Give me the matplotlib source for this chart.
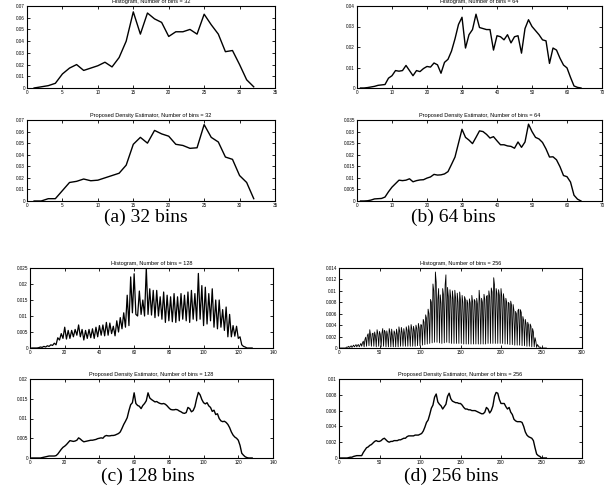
import numpy as np
import matplotlib
matplotlib.use('Agg')
import matplotlib.pyplot as plt
from matplotlib.ticker import FormatStrFormatter

# 32 bins
hist32 = [0, 0.001, 0.002, 0.004, 0.012, 0.017, 0.020, 0.015, 0.017, 0.019,
          0.022, 0.018, 0.026, 0.040, 0.065, 0.046, 0.064, 0.059, 0.056, 0.044,
          0.048, 0.048, 0.050, 0.046, 0.063, 0.054, 0.046, 0.031, 0.032, 0.020,
          0.007, 0.001]
dens32 = [0, 0, 0.002, 0.002, 0.009, 0.016, 0.017, 0.019, 0.0175, 0.018,
          0.020, 0.022, 0.024, 0.031, 0.049, 0.055, 0.050, 0.061, 0.058, 0.056,
          0.049, 0.048, 0.0455, 0.046, 0.066, 0.055, 0.051, 0.038, 0.036, 0.022,
          0.016, 0.002]

# 64 bins
hist64 = [0, 0, 0.0002, 0.0005, 0.0008, 0.0013, 0.0015, 0.0017, 0.0048, 0.006,
          0.0085, 0.0082, 0.0085, 0.011, 0.0085, 0.006, 0.0085, 0.008, 0.0095, 0.0105,
          0.0102, 0.0122, 0.0113, 0.0072, 0.0125, 0.014, 0.018, 0.024, 0.031, 0.0345,
          0.0195, 0.026, 0.0285, 0.036, 0.0295, 0.029, 0.0285, 0.0285, 0.0185, 0.0255,
          0.025, 0.0235, 0.026, 0.022, 0.025, 0.0255, 0.017, 0.029, 0.0333, 0.030,
          0.028, 0.026, 0.0235, 0.023, 0.012, 0.0195, 0.0185, 0.0145, 0.0112, 0.0098,
          0.0052, 0.001, 0.0003, 0]
dens64 = [0, 0, 0.0001, 0.0004, 0.0009, 0.001, 0.0011, 0.0017, 0.004, 0.006,
          0.0075, 0.009, 0.0088, 0.009, 0.0096, 0.0083, 0.0088, 0.0091, 0.0092, 0.0099,
          0.0104, 0.0115, 0.0112, 0.0113, 0.0117, 0.0127, 0.0158, 0.019, 0.025, 0.031,
          0.0275, 0.0263, 0.0248, 0.0275, 0.0303, 0.030, 0.0288, 0.0272, 0.0278, 0.026,
          0.0243, 0.0243, 0.0238, 0.0236, 0.0228, 0.0255, 0.0232, 0.0255, 0.0332, 0.030,
          0.0275, 0.0268, 0.0253, 0.0225, 0.019, 0.0191, 0.0178, 0.0148, 0.011, 0.0105,
          0.0082, 0.0025, 0.0008, 0]

# 128 bins
hist128 = [0, 0, 0, 0, 0.0001, 0.0003, 0.0002, 0.0005, 0.0003, 0.0007,
           0.0005, 0.001, 0.0008, 0.0015, 0.001, 0.0032, 0.0025, 0.0045, 0.003, 0.0065,
           0.0028, 0.0055, 0.003, 0.0055, 0.0035, 0.0058, 0.004, 0.0072, 0.0035, 0.0058,
           0.0025, 0.0055, 0.003, 0.0058, 0.0032, 0.006, 0.003, 0.0065, 0.0035, 0.007,
           0.004, 0.0072, 0.0038, 0.008, 0.004, 0.0078, 0.0045, 0.0068, 0.0038, 0.0085,
           0.005, 0.0095, 0.006, 0.011, 0.0065, 0.0165, 0.007, 0.0222, 0.011, 0.0232,
           0.0105, 0.0100, 0.0178, 0.0105, 0.0150, 0.0100, 0.0250, 0.0105, 0.0185, 0.0103,
           0.018, 0.0095, 0.018, 0.010, 0.016, 0.009, 0.0175, 0.008, 0.0165, 0.0085,
           0.016, 0.0082, 0.017, 0.008, 0.016, 0.0085, 0.017, 0.009, 0.0165, 0.0085,
           0.0175, 0.008, 0.018, 0.009, 0.017, 0.0085, 0.0233, 0.009, 0.0195, 0.007,
           0.019, 0.0075, 0.017, 0.0085, 0.0185, 0.0065, 0.015, 0.006, 0.015, 0.0065,
           0.012, 0.0055, 0.0128, 0.0035, 0.0105, 0.0035, 0.007, 0.0037, 0.0068, 0.003,
           0.0035, 0.001, 0.0005, 0.0003, 0, 0, 0, 0]
dens128 = [0, 0, 0, 0, 0, 0, 0.0001, 0.0002, 0.0003, 0.0004,
           0.0005, 0.0005, 0.0005, 0.0005, 0.0006, 0.001, 0.0016, 0.0022, 0.0027, 0.003,
           0.0034, 0.0039, 0.0044, 0.0043, 0.0042, 0.0043, 0.0045, 0.0051, 0.0048, 0.0044,
           0.0041, 0.0042, 0.0043, 0.0044, 0.0045, 0.0045, 0.0046, 0.0047, 0.0049, 0.005,
           0.0051, 0.005, 0.0055, 0.0057, 0.0056, 0.0056, 0.0057, 0.0057, 0.0058, 0.006,
           0.0062, 0.0066, 0.0075, 0.0085, 0.0093, 0.0102, 0.012, 0.0135, 0.014, 0.0165,
           0.0138, 0.0133, 0.0131, 0.0125, 0.0133, 0.0138, 0.0145, 0.0165, 0.0152, 0.0148,
           0.0145, 0.0142, 0.0143, 0.014, 0.0138, 0.0137, 0.0138, 0.0136, 0.0132, 0.0127,
           0.0123, 0.0122, 0.0122, 0.0123, 0.0122, 0.0119, 0.0117, 0.0114, 0.0113, 0.0115,
           0.0128, 0.0125, 0.0117, 0.012, 0.013, 0.015, 0.0166, 0.016, 0.0148, 0.014,
           0.0137, 0.014, 0.0132, 0.0128, 0.0118, 0.0121, 0.011, 0.0112, 0.01, 0.0094,
           0.0092, 0.0093, 0.009, 0.0085, 0.0077, 0.0066, 0.0058, 0.0053, 0.005, 0.0045,
           0.0032, 0.0012, 0.0007, 0.0003, 0.0001, 0, 0, 0]

# 256 bins
hist256 = [0, 0, 0, 0, 0, 0, 0, 0, 0.0001, 0.0002,
           0.0001, 0.0003, 0.0001, 0.0002, 0.0004, 0.0001, 0.0003, 0.0005, 0.0002, 0.0004,
           0.0006, 0.0002, 0.0005, 0.0006, 0.0002, 0.0005, 0.0008, 0.0003, 0.0009, 0.0012,
           0.0002, 0.0015, 0.0019, 0.0003, 0.0022, 0.0025, 0.0004, 0.0032, 0.0022, 0.0003,
           0.0025, 0.0026, 0.0003, 0.0028, 0.0021, 0.0002, 0.0032, 0.0025, 0.0003, 0.0029,
           0.0024, 0.0002, 0.0026, 0.0034, 0.0003, 0.0031, 0.0028, 0.0002, 0.0030, 0.0022,
           0.0002, 0.0034, 0.0027, 0.0002, 0.0033, 0.0021, 0.0002, 0.0030, 0.0026, 0.0002,
           0.0033, 0.0024, 0.0002, 0.0037, 0.0028, 0.0003, 0.0036, 0.0027, 0.0003, 0.0034,
           0.0025, 0.0003, 0.0037, 0.0031, 0.0003, 0.0039, 0.0027, 0.0003, 0.0041, 0.0033,
           0.0003, 0.0038, 0.0030, 0.0003, 0.0040, 0.0034, 0.0004, 0.0043, 0.0035, 0.0004,
           0.0041, 0.0040, 0.0005, 0.0050, 0.0045, 0.0006, 0.0058, 0.0052, 0.0007, 0.0068,
           0.0060, 0.0008, 0.0085, 0.0080, 0.0009, 0.0112, 0.0100, 0.0010, 0.0133, 0.0115,
           0.0010, 0.0085, 0.0104, 0.0009, 0.0093, 0.0078, 0.0008, 0.0104, 0.0093, 0.0009,
           0.0110, 0.0128, 0.0010, 0.0106, 0.0090, 0.0009, 0.0102, 0.0088, 0.0008, 0.0100,
           0.0085, 0.0008, 0.0101, 0.0087, 0.0008, 0.0096, 0.0080, 0.0008, 0.0098, 0.0083,
           0.0008, 0.0092, 0.0079, 0.0007, 0.0090, 0.0085, 0.0007, 0.0084, 0.0078, 0.0007,
           0.0086, 0.0079, 0.0007, 0.0092, 0.0080, 0.0007, 0.0085, 0.0082, 0.0007, 0.0087,
           0.0076, 0.0007, 0.0101, 0.0083, 0.0007, 0.0087, 0.0080, 0.0007, 0.0094, 0.0085,
           0.0007, 0.0090, 0.0092, 0.0008, 0.0100, 0.0090, 0.0008, 0.0105, 0.0098, 0.0008,
           0.0123, 0.0110, 0.0008, 0.0104, 0.0095, 0.0008, 0.0102, 0.0092, 0.0008, 0.0104,
           0.0090, 0.0008, 0.0095, 0.0083, 0.0007, 0.0087, 0.0080, 0.0007, 0.0080, 0.0078,
           0.0006, 0.0082, 0.0075, 0.0006, 0.0076, 0.0065, 0.0005, 0.0064, 0.0060, 0.0005,
           0.0066, 0.0068, 0.0005, 0.0067, 0.0062, 0.0004, 0.0055, 0.0048, 0.0004, 0.0050,
           0.0042, 0.0003, 0.0045, 0.0040, 0.0003, 0.0042, 0.0038, 0.0002, 0.0034, 0.0028,
           0.0002, 0.0018, 0.0012, 0.0001, 0.0006, 0.0004, 0.0001, 0.0002, 0, 0,
           0, 0, 0, 0, 0, 0]
# estimator curve read every second bin (2, 4, ..., 256)
dens256 = [0, 0, 0, 0, 0, 0.00005, 0.0001, 0.0001, 0.0002, 0.00025,
           0.0003, 0.0003, 0.0003, 0.0003, 0.0007, 0.001, 0.0013, 0.0014, 0.0016, 0.0017,
           0.0019, 0.0021, 0.0022, 0.0021, 0.0021, 0.0022, 0.0024, 0.0025, 0.0023, 0.0021,
           0.002, 0.0021, 0.0021, 0.0022, 0.0022, 0.0022, 0.0023, 0.0023, 0.0024, 0.0025,
           0.0025, 0.0027, 0.0028, 0.0028, 0.0028, 0.0028, 0.0029, 0.0029, 0.0029, 0.003,
           0.0031, 0.0034, 0.0039, 0.0045, 0.0048, 0.0055, 0.0063, 0.0067, 0.0077, 0.0081,
           0.0071, 0.0068, 0.0066, 0.0062, 0.0065, 0.0068, 0.0078, 0.0082, 0.0075, 0.0072,
           0.0071, 0.007, 0.007, 0.0069, 0.0069, 0.0067, 0.0064, 0.0062, 0.0062, 0.0061,
           0.0061, 0.006, 0.006, 0.006, 0.0059, 0.0058, 0.0057, 0.0056, 0.0056, 0.0058,
           0.0064, 0.0062, 0.0057, 0.006, 0.0066, 0.0078, 0.0083, 0.0082, 0.0074, 0.0069,
           0.0069, 0.0069, 0.0065, 0.0062, 0.0064, 0.0058, 0.0055, 0.0049, 0.0047, 0.0046,
           0.0046, 0.0046, 0.0045, 0.004, 0.0033, 0.0029, 0.0027, 0.0026, 0.0025, 0.0022,
           0.0013, 0.0005, 0.0003, 0.0002, 0.0, 0, 0, 0]

W, H = 609, 499

def make_ax(l, r, t, b, x, y, title, xmax, xstep, ymax, ystep, lw=1.0):
    ax = fig.add_axes([l / W, 1 - b / H, (r - l) / W, (b - t) / H])
    ax.plot(x, y, color='black', linewidth=lw)
    ax.set_xlim(0, xmax)
    ax.set_ylim(0, ymax)
    ax.set_xticks(np.arange(0, xmax + xstep / 2, xstep))
    ax.set_yticks(np.arange(0, ymax + ystep / 2, ystep))
    ax.yaxis.set_major_formatter(FormatStrFormatter('%g'))
    ax.xaxis.set_major_formatter(FormatStrFormatter('%g'))
    ax.tick_params(direction='in', top=True, right=True, length=2, width=0.6,
                   labelsize=3.3, pad=1.5, colors='black')
    for s in ax.spines.values():
        s.set_linewidth(0.8)
    ax.set_title(title, fontsize=4, pad=2.5)
    return ax

plt.rcParams['font.family'] = ['Liberation Sans', 'DejaVu Sans']
fig = plt.figure(figsize=(W / 100, H / 100), dpi=100)

make_ax(27, 275, 6, 88, np.arange(1, 33), hist32, 'Histogram, Number of bins = 32', 35, 5, 0.07, 0.01)
make_ax(27, 275, 120, 201, np.arange(1, 33), dens32, 'Proposed Density Estimator, Number of bins = 32', 35, 5, 0.07, 0.01)
make_ax(357, 602, 6, 88, np.arange(1, 65), hist64, 'Histogram, Number of bins = 64', 70, 10, 0.04, 0.01)
make_ax(357, 602, 120, 201, np.arange(1, 65), dens64, 'Proposed Density Estimator, Number of bins = 64', 70, 10, 0.035, 0.005)
make_ax(30, 273, 268, 348, np.arange(1, 129), hist128, 'Histogram, Number of bins = 128', 140, 20, 0.025, 0.005, lw=0.9)
make_ax(30, 273, 379, 458, np.arange(1, 129), dens128, 'Proposed Density Estimator, Number of bins = 128', 140, 20, 0.02, 0.005)
make_ax(339, 582, 268, 348, np.arange(1, 257), hist256, 'Histogram, Number of bins = 256', 300, 50, 0.014, 0.002, lw=0.6)
make_ax(339, 582, 379, 458, np.arange(2, 257, 2), dens256, 'Proposed Density Estimator, Number of bins = 256', 300, 50, 0.01, 0.002)

# captions (Times-like serif, placed on the baseline)
cap = dict(fontsize=14, family='Liberation Serif', ha='center', va='baseline')
fig.text(146 / W, 1 - 222 / H, '(a) 32 bins', **cap)
fig.text(453 / W, 1 - 222 / H, '(b) 64 bins', **cap)
fig.text(148 / W, 1 - 481 / H, '(c) 128 bins', **cap)
fig.text(451 / W, 1 - 481 / H, '(d) 256 bins', **cap)

fig.savefig('out.png', dpi=100)
